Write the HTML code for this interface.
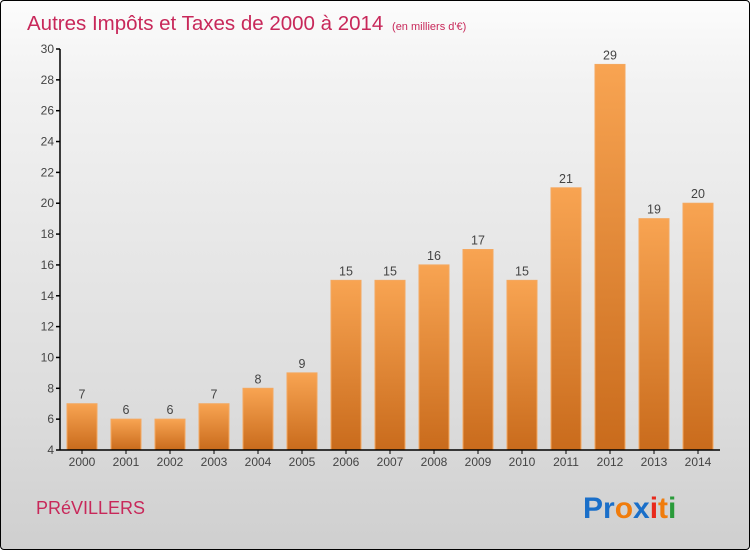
<!DOCTYPE html>
<html><head><meta charset="utf-8"><style>
html,body{margin:0;padding:0}
body{width:750px;height:550px;overflow:hidden;font-family:"DejaVu Sans","Liberation Sans",sans-serif}
#wrap{position:absolute;left:0;top:0;width:748px;height:548px;border:1px solid #000;border-radius:4px;background:linear-gradient(#fcfcfc,#f2f2f2 15%,#dcdcdc 75%,#cfcfcf)}
</style></head><body>
<div id="wrap">
<svg width="750" height="550" style="position:absolute;left:-1px;top:-1px">
<defs><linearGradient id="bg" x1="0" y1="0" x2="0" y2="1"><stop offset="0" stop-color="#f8a452"/><stop offset="1" stop-color="#c96b1c"/></linearGradient></defs>
<text x="27" y="30" font-size="20.5" fill="#c8285a" font-family="Liberation Sans,sans-serif">Autres Impôts et Taxes de 2000 à 2014 <tspan font-size="11" dx="3">(en milliers d'€)</tspan></text>
<g id="plot"></g>
<text x="36" y="514" font-size="18" fill="#c8285a" font-family="Liberation Sans,sans-serif">PRéVILLERS</text>
<text x="583" y="518" font-size="30" font-family="Liberation Sans,sans-serif" font-weight="bold"><tspan fill="#1a6fc9">Pr</tspan><tspan fill="#f07c0c">o</tspan><tspan fill="#1a6fc9">x</tspan><tspan fill="#e8291b">i</tspan><tspan fill="#f07c0c">t</tspan><tspan fill="#2a9b3a">i</tspan></text>
</svg></div>
<script>
const years=["2000","2001","2002","2003","2004","2005","2006","2007","2008","2009","2010","2011","2012","2013","2014"];
const values=[7,6,6,7,8,9,15,15,16,17,15,21,29,19,20];
const yTicks=[4,6,8,10,12,14,16,18,20,22,24,26,28,30];
const NS="http://www.w3.org/2000/svg";
const g=document.getElementById('plot');
const y=v=>450-(v-4)*(401/26);
const x=i=>82+i*44;
function el(t,a){const e=document.createElementNS(NS,t);for(const k in a)e.setAttribute(k,a[k]);g.appendChild(e);return e;}
yTicks.forEach(t=>{
 const l=el('line',{x1:56,x2:60,y1:y(t),y2:y(t),stroke:'#000','stroke-width':1.5});
 
 
 const tx=el('text',{x:54,y:y(t)+4,'text-anchor':'end','font-size':12,fill:'#444','font-family':'Liberation Sans,sans-serif'});
 tx.textContent=t;
 
 
});
values.forEach((v,i)=>{
 const r=el('rect',{x:x(i)-15,y:y(v),width:30,height:450-y(v),fill:'url(#bg)',stroke:'#f4a860','stroke-width':1});
 
 
 const vt=el('text',{x:x(i),y:y(v)-5,'text-anchor':'middle','font-size':12.5,fill:'#444','font-family':'Liberation Sans,sans-serif'});
 vt.textContent=v;
 
 
 const tk=el('line',{x1:x(i),x2:x(i),y1:450,y2:454,stroke:'#000'});
 
 
 const xt=el('text',{x:x(i),y:466,'text-anchor':'middle','font-size':12,fill:'#444','font-family':'Liberation Sans,sans-serif'});
 xt.textContent=years[i];
 
 
});
const ya=el('line',{x1:60,x2:60,y1:49,y2:450,stroke:'#000','stroke-width':1.5});


const xa=el('line',{x1:60,x2:720,y1:450,y2:450,stroke:'#000','stroke-width':1.5});


</script>
</body></html>
